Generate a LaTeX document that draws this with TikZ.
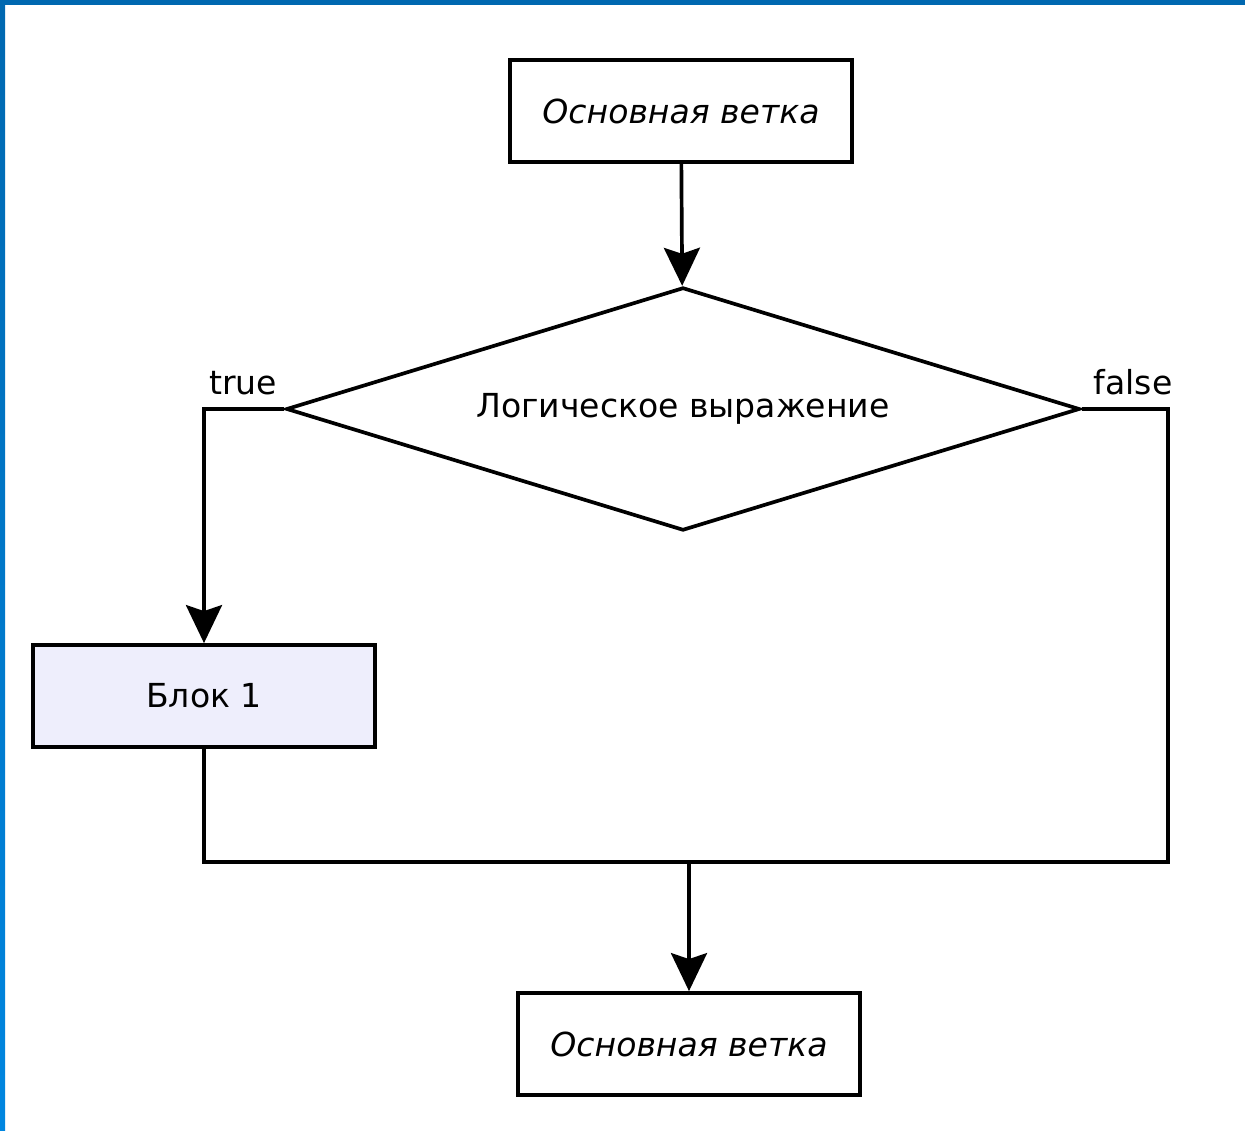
\documentclass[tikz,border=0pt]{standalone}
\usepackage{fontspec}
\setmainfont{DejaVu Sans}
\usetikzlibrary{shapes.geometric,arrows.meta}
\definecolor{frameblue}{RGB}{0,104,176}
\definecolor{framebluelow}{RGB}{0,134,224}
\definecolor{blockfill}{RGB}{238,238,252}

\begin{document}
\begin{tikzpicture}[x=0.01cm,y=-0.01cm]
      \tikzstyle{every node}=[font=\fontsize{9.4}{11}\selectfont]
      \tikzstyle{branch}=[rectangle,draw,line width=1.05pt,minimum width=3.42cm,minimum height=1.02cm,inner sep=0pt]
      \tikzstyle{cond}=[diamond,draw,line width=1.05pt,aspect=3.26,minimum width=7.93cm,minimum height=2.43cm,inner sep=0pt]
      \tikzstyle{flow}=[line width=1.05pt]
      \tikzstyle{arrow}=[flow,-{Stealth[length=0.38cm,width=0.36cm,inset=0.06cm]}]
      \useasboundingbox (0,0) rectangle (1245,1131);
      \fill[white] (0,0) rectangle (1245,1131);
      % slide frame
      \fill[frameblue] (0,0) rectangle (1245,5);
      \shade[top color=frameblue,bottom color=framebluelow] (0,0) rectangle (5,1131);
      % blocks
      \node[branch,font=\fontsize{9.4}{11}\selectfont\itshape] (start) at (681,111) {Основная ветка};
      \node[cond] (test) at (683,409) {Логическое выражение};
      \node[branch,fill=blockfill] (block1) at (204,696) {Блок 1};
      \node[branch,font=\fontsize{9.4}{11}\selectfont\itshape] (finish) at (689,1044) {Основная ветка};
      \node (truelbl) at (243,383) {true};
      \node (falselbl) at (1133,382) {false};
      \coordinate (joinR) at (1168,862);
      % connectors
      \draw[arrow] (start) -- (test);
      \draw[arrow] (test.west) -| (block1.north);
      \draw[flow] (test.east) -| (joinR) -| (block1.south);
      \draw[arrow] (joinR -| finish) -- (finish);
\end{tikzpicture}
\end{document}
